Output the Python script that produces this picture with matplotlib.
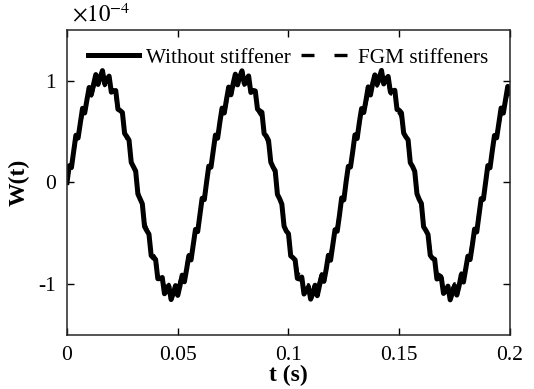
import numpy as np
import matplotlib
matplotlib.use("Agg")
import matplotlib.pyplot as plt

# time axis (s), 1 ms step
t = np.arange(0, 201) * 0.001

# W(t) in units of 1e-4
w_without = [
    0.000, 0.164, 0.146, 0.307, 0.464, 0.437, 0.586, 0.729, 0.685, 0.813,
    0.934, 0.866, 0.968, 1.061, 0.964, 1.037, 1.100, 0.972, 1.014, 1.046,
    0.888, 0.901, 0.904, 0.720, 0.707, 0.688, 0.482, 0.451, 0.416, 0.197,
    0.155, 0.112, -0.114, -0.163, -0.210, -0.433, -0.474, -0.509, -0.719, -0.743,
    -0.759, -0.947, -0.946, -0.935, -1.095, -1.065, -1.023, -1.152, -1.089, -1.015,
    -1.111, -1.017, -0.912, -0.977, -0.854, -0.722, -0.762, -0.615, -0.462, -0.484,
    -0.322, -0.156, -0.169,
    0.000, 0.160, 0.150, 0.310, 0.466, 0.435, 0.590, 0.731, 0.683, 0.815,
    0.938, 0.862, 0.970, 1.065, 0.960, 1.040, 1.098, 0.975, 1.012, 1.048,
    0.885, 0.905, 0.900, 0.722, 0.705, 0.690, 0.480, 0.455, 0.412, 0.200,
    0.152, 0.115, -0.118, -0.160, -0.214, -0.430, -0.478, -0.505, -0.722, -0.740,
    -0.763, -0.944, -0.950, -0.931, -1.098, -1.062, -1.027, -1.148, -1.093, -1.011,
    -1.114, -1.013, -0.915, -0.973, -0.857, -0.718, -0.765, -0.612, -0.465, -0.480,
    -0.325, -0.152, -0.172,
    0.004, 0.158, 0.152, 0.304, 0.468, 0.432, 0.592, 0.727, 0.688, 0.810,
    0.940, 0.860, 0.973, 1.058, 0.967, 1.034, 1.102, 0.969, 1.017, 1.043,
    0.891, 0.898, 0.907, 0.717, 0.710, 0.684, 0.486, 0.448, 0.419, 0.194,
    0.158, 0.109, -0.111, -0.166, -0.207, -0.436, -0.471, -0.512, -0.716, -0.746,
    -0.756, -0.950, -0.943, -0.938, -1.092, -1.068, -1.020, -1.155, -1.086, -1.018,
    -1.108, -1.020, -0.909, -0.980, -0.851, -0.725, -0.759, -0.618, -0.459, -0.487,
    -0.319, -0.159, -0.166,
    0.002, 0.166, 0.144, 0.309, 0.462, 0.439, 0.584, 0.732, 0.682, 0.816,
    0.945, 0.880,
]

w_fgm = [
    0.000, 0.140, 0.158, 0.295, 0.428, 0.438, 0.563, 0.683, 0.676, 0.782,
    0.880, 0.850, 0.931, 1.003, 0.945, 0.997, 1.040, 0.952, 0.975, 0.988,
    0.872, 0.866, 0.852, 0.710, 0.680, 0.644, 0.481, 0.434, 0.382, 0.207,
    0.149, 0.090, -0.092, -0.156, -0.219, -0.399, -0.456, -0.507, -0.674, -0.714,
    -0.747, -0.892, -0.909, -0.917, -1.035, -1.024, -1.002, -1.090, -1.047, -0.994,
    -1.051, -0.977, -0.894, -0.922, -0.821, -0.712, -0.715, -0.591, -0.462, -0.448,
    -0.310, -0.168, -0.145,
    0.000, 0.136, 0.162, 0.298, 0.425, 0.441, 0.560, 0.686, 0.672, 0.785,
    0.877, 0.854, 0.928, 1.007, 0.941, 1.000, 1.036, 0.956, 0.971, 0.992,
    0.868, 0.870, 0.848, 0.714, 0.676, 0.648, 0.477, 0.438, 0.378, 0.211,
    0.145, 0.094, -0.096, -0.152, -0.223, -0.395, -0.460, -0.503, -0.678, -0.710,
    -0.751, -0.888, -0.913, -0.913, -1.039, -1.020, -1.006, -1.086, -1.051, -0.990,
    -1.055, -0.973, -0.898, -0.918, -0.825, -0.708, -0.719, -0.587, -0.466, -0.444,
    -0.314, -0.164, -0.149,
    0.003, 0.143, 0.155, 0.292, 0.431, 0.435, 0.566, 0.680, 0.679, 0.779,
    0.883, 0.847, 0.934, 1.000, 0.948, 0.994, 1.043, 0.949, 0.978, 0.985,
    0.875, 0.863, 0.855, 0.707, 0.683, 0.641, 0.484, 0.431, 0.385, 0.204,
    0.152, 0.087, -0.089, -0.159, -0.216, -0.402, -0.453, -0.510, -0.671, -0.717,
    -0.744, -0.895, -0.906, -0.920, -1.032, -1.027, -0.999, -1.093, -1.044, -0.997,
    -1.048, -0.980, -0.891, -0.925, -0.818, -0.715, -0.712, -0.594, -0.459, -0.451,
    -0.307, -0.171, -0.142,
    0.002, 0.144, 0.156, 0.297, 0.426, 0.440, 0.561, 0.685, 0.674, 0.784,
    0.890, 0.862,
]

x_ticks = [0, 0.05, 0.1, 0.15, 0.2]
x_labels = ['0', '0.05', '0.1', '0.15', '0.2']
y_ticks = [-1, 0, 1]
y_labels = ['-1', '0', '1']

plt.rcParams['font.family'] = ['Liberation Serif', 'DejaVu Serif']
plt.rcParams['mathtext.fontset'] = 'stix'
plt.rcParams['axes.unicode_minus'] = False

fig = plt.figure(figsize=(5.34, 3.89), dpi=100)
ax = fig.add_axes([0.1255, 0.139, 0.8295, 0.784])

ax.plot(t, w_without, color='black', linewidth=3.6, label='Without stiffener')
ax.plot(t, w_fgm, color='black', linewidth=2.4, linestyle=(0, (3.9, 6)),
        label='FGM stiffeners')

ax.set_xlim(0, 0.2)
ax.set_ylim(-1.5, 1.5)
ax.set_xticks(x_ticks)
ax.set_xticklabels(x_labels)
ax.set_yticks(y_ticks)
ax.set_yticklabels(y_labels)
ax.tick_params(direction='in', top=True, right=True, length=5, width=1,
               labelsize=15.5, pad=8)
for s in ax.spines.values():
    s.set_linewidth(1.1)
    s.set_color('#262626')

ax.set_xlabel('t (s)', fontsize=17, fontweight='bold', labelpad=0)
ax.set_ylabel('W(t)', fontsize=17, fontweight='bold', labelpad=6)
ax.text(0.012, 1.01, r'$\times 10^{-4}$', transform=ax.transAxes,
        fontsize=16.5, ha='left', va='bottom')

ax.legend(loc='upper center', ncol=2, frameon=False, fontsize=15.3,
          handlelength=2.4, columnspacing=0.5, handletextpad=0.3,
          bbox_to_anchor=(0.5, 1.0), borderaxespad=0.45)

fig.savefig('out.png', dpi=100)
